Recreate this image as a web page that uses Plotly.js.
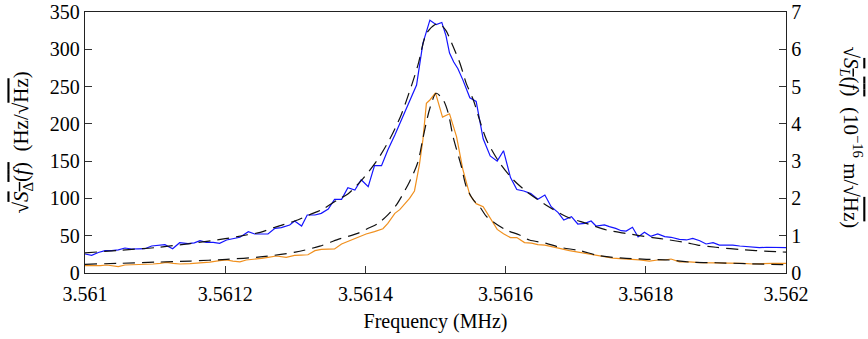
<!DOCTYPE html>
<html>
<head>
<meta charset="utf-8">
<script src="https://cdn.plot.ly/plotly-3.0.1.min.js"></script>
<style>
html,body{margin:0;padding:0;background:#fff;}
#chart text, #chart tspan { font-family: "Liberation Serif", "DejaVu Serif", serif !important; }
</style>
</head>
<body>
<div id="chart" style="width:868px;height:339px;"></div>
<script>
// Frequency offsets in Hz from 3.561 MHz
const blueHz = [0,9.5,19,28.5,38,47.5,57,66.5,76,85.5,95,104.5,114,125,135,147,156,164,173,183,192,202,211,221,233,242,252,261,271,280,292,299,309,317,328,337,347,356,366,375,385,394,404,413,423,432,442,451,461,473,482,492,501,509,515,520,526,532,539,549,558,568,578,588,597,607,616,626,636,646,656,665,675,683,694,703,713,722,729,741,748,757,765,772,781,789,798,807,817,827,836,848,858,867,877,886,896,905,915,924,934,943,953,962,972,981,991,1000];
const blueVal = [25.5,23.7,27.5,29.9,29.9,31,33.5,32.2,32.4,32.6,36.2,37,38,32.6,40.6,39.3,40.5,43.3,41.2,41,39.8,44.3,46,47.9,55.4,52.3,52.3,52.3,59.9,60.8,64.4,69.7,63,77.8,77.8,80,85.8,98.8,98.8,114.4,111.3,125,115.7,144,144,165,185,205,225,252,308,339,333,336,318,295,283,274,259,235,230,180,157,150,164,128,112,110,106.5,99,104.6,88.9,81,71,75.5,65.7,66.6,69.7,63,64.4,62.1,59.9,56.7,56.3,61.3,48.3,54.6,49.2,52.3,48.7,47.9,45.2,44.3,46.5,43.3,38.9,40.6,37.5,37.5,37.5,36.2,35.3,35.3,33.9,34.5,34.5,33.5,33.9];

const orangeHz = [0,12,22,31,40,47.5,57,68,78,88,97,107,116,126,135,150,164,178,192,202,211,221,230,242,252,261,273,287,299,308,318,328,337,347,356,366,378,390,401,413,425,432,442,449,456,463,470,477,482,487,492,500,510,520,530,539,549,558,568,577,588,597,607,616,627,637,646,656,665,677,691,703,715,725,734,744,753,763,777,791,805,817,829,836,848,862,877,891,905,924,938,953,967,981,1000];
const orangeVal = [0.196,0.188,0.2,0.215,0.19,0.17,0.215,0.22,0.224,0.235,0.241,0.26,0.286,0.26,0.241,0.25,0.26,0.29,0.33,0.349,0.32,0.30,0.349,0.367,0.39,0.42,0.456,0.42,0.474,0.48,0.49,0.60,0.635,0.64,0.644,0.778,0.867,0.957,1.046,1.108,1.188,1.33,1.6,1.7,1.84,2.0,2.2,2.9,3.57,4.55,4.64,4.83,4.18,4.27,3.66,2.78,2.09,1.86,1.78,1.5,1.17,1.05,0.95,0.95,0.815,0.8,0.76,0.75,0.705,0.66,0.60,0.56,0.53,0.49,0.456,0.42,0.40,0.385,0.375,0.35,0.32,0.349,0.355,0.375,0.30,0.30,0.277,0.277,0.26,0.26,0.26,0.241,0.26,0.26,0.26];

const blueFitHz = [0,50,100,150,200,230,250,270,300,320,340,360,375,395,416,435,451,466,475,487,499,506,515,525,535,544,554,563,573,592,611,630,658,687,715,744,772,810,834,858,874,900,940,976,1000];
const blueFitVal = [27,30.5,34,39.5,46,51,54.5,61,70,78,86,98,106,125,150,180,212,252,279,321,333,334,325,304,281,254,232,205,178,147,125,109,91,75.5,66.6,57.7,53,47.5,44.3,40.6,37.5,34.5,31,29,28];

const orangeFitHz = [0,50,100,150,202,250,300,335,361,390,404,418,432,444,463,475,482,492,501,511,518,525,537,544,554,563,573,584,601,620,634,658,677,706,729,753,772,801,834,865,900,945,1000];
const orangeFitVal = [0.233,0.26,0.29,0.32,0.367,0.43,0.56,0.72,0.9,1.07,1.2,1.33,1.56,1.82,2.45,2.98,3.61,4.42,4.82,4.64,4.3,3.66,2.85,2.31,1.96,1.78,1.51,1.35,1.15,1.02,0.885,0.796,0.69,0.6,0.483,0.42,0.394,0.367,0.349,0.29,0.275,0.25,0.22];

const xTicks = [3.561, 3.5612, 3.5614, 3.5616, 3.5618, 3.562];
const xTickText = ['3.561', '3.5612', '3.5614', '3.5616', '3.5618', '3.562'];
const f0 = 3.561;
const toMHz = hz => hz.map(h => f0 + h / 1e6);

const FONT = 'Liberation Serif';
const dashFit = '12px,7px';

const traces = [
  {x: toMHz(blueHz), y: blueVal, type: 'scatter', mode: 'lines', yaxis: 'y',
   line: {color: '#1414ff', width: 1.2}, hoverinfo: 'skip'},
  {x: toMHz(orangeHz), y: orangeVal, type: 'scatter', mode: 'lines', yaxis: 'y2',
   line: {color: '#f0901e', width: 1.2}, hoverinfo: 'skip'},
  {x: toMHz(blueFitHz), y: blueFitVal, type: 'scatter', mode: 'lines', yaxis: 'y',
   line: {color: '#111', width: 1.2, dash: dashFit, shape: 'spline', smoothing: 0.8}, hoverinfo: 'skip'},
  {x: toMHz(orangeFitHz), y: orangeFitVal, type: 'scatter', mode: 'lines', yaxis: 'y2',
   line: {color: '#111', width: 1.2, dash: dashFit, shape: 'spline', smoothing: 0.8}, hoverinfo: 'skip'}
];

const OL = "<span style='text-decoration:overline'>";
const tf = {family: FONT, size: 20, color: '#000'};
const layout = {
  width: 868, height: 339,
  margin: {l: 85, r: 82, t: 12, b: 66},
  paper_bgcolor: '#fff', plot_bgcolor: '#fff',
  showlegend: false,
  font: {family: FONT, size: 20, color: '#000'},
  xaxis: {
    range: [3.561, 3.562], tickvals: xTicks, ticktext: xTickText,
    ticks: 'inside', ticklen: 7, tickwidth: 1, tickcolor: '#333',
    ticklabelstandoff: 3,
    showline: true, mirror: true, linecolor: '#222', linewidth: 1.2,
    showgrid: false, zeroline: false,
    tickfont: tf,
    title: {text: 'Frequency (MHz)', font: tf, standoff: 9}
  },
  yaxis: {
    range: [0, 350], dtick: 50, tick0: 0,
    ticks: 'inside', ticklen: 7, tickwidth: 1, tickcolor: '#333',
    showline: true, mirror: true, linecolor: '#222', linewidth: 1.2,
    showgrid: false, zeroline: false,
    tickfont: tf
  },
  yaxis2: {
    range: [0, 7], dtick: 1, tick0: 0, overlaying: 'y', side: 'right',
    ticks: 'inside', ticklen: 7, tickwidth: 1, tickcolor: '#333',
    showline: true, linecolor: '#222', linewidth: 1.2,
    showgrid: false, zeroline: false,
    tickfont: tf
  },
  annotations: [
    {xref: 'paper', yref: 'paper', x: -0.09, y: 0.5, xanchor: 'center', yanchor: 'middle',
     textangle: -90, showarrow: false, font: {family: FONT, size: 21, color: '#000'},
     text: '√' + OL + '<i>S</i><sub>Δ</sub>(<i>f</i>)</span>  (Hz/√' + OL + 'Hz</span>)'},
    {xref: 'paper', yref: 'paper', x: 1.094, y: 0.52, xanchor: 'center', yanchor: 'middle',
     textangle: 90, showarrow: false, font: {family: FONT, size: 21, color: '#000'},
     text: '√' + OL + '<i>S<sub>L</sub></i>(<i>f</i>)</span>  (10<sup>−16</sup> m/√' + OL + 'Hz</span>)'}
  ]
};

Plotly.newPlot('chart', traces, layout, {staticPlot: true, displayModeBar: false});
</script>
</body>
</html>
